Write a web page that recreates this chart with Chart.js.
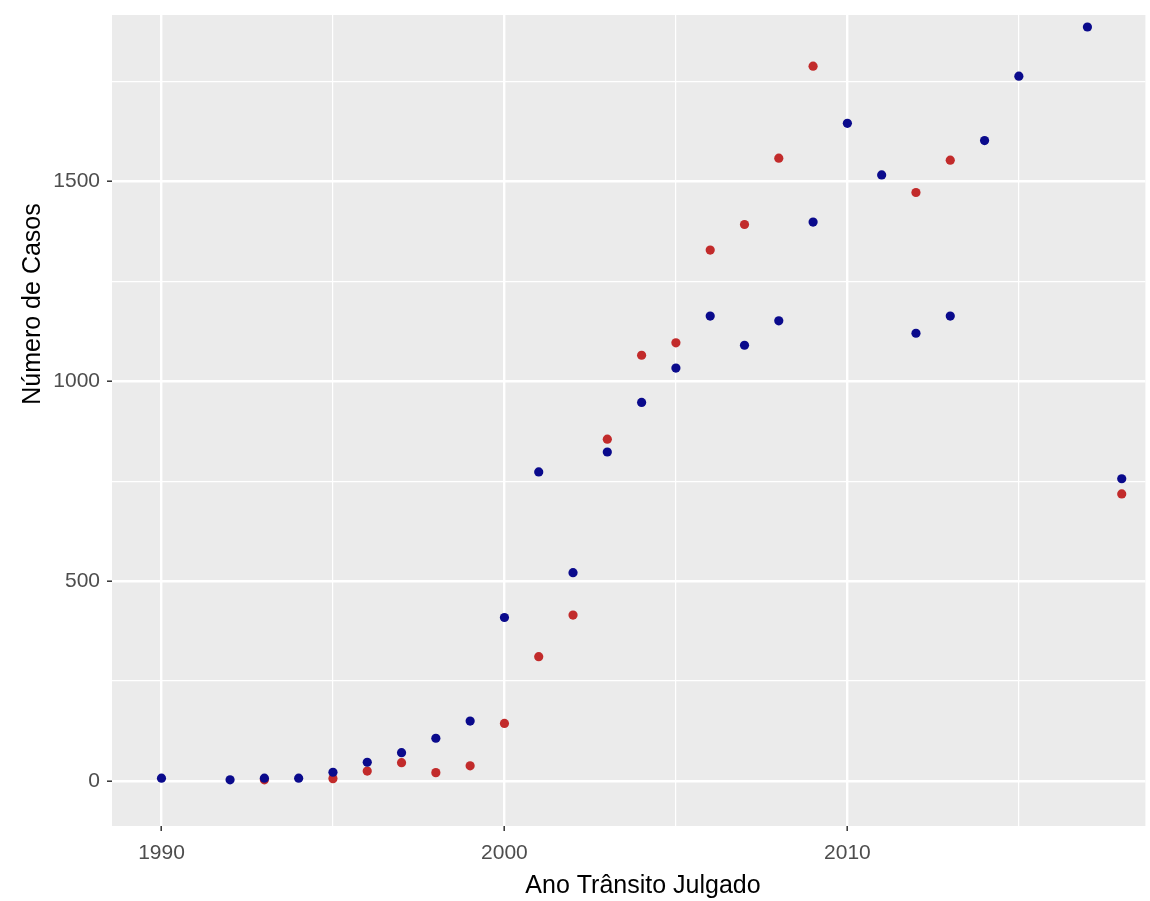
<!DOCTYPE html>
<html>
<head>
<meta charset="utf-8">
<title>Número de Casos por Ano Trânsito Julgado</title>
<script src="https://cdn.jsdelivr.net/npm/chart.js@4/dist/chart.umd.min.js"></script>
<style>
  html, body { margin: 0; padding: 0; background: #fff; }
  #wrap { width: 1150px; height: 901px; overflow: hidden; }
</style>
</head>
<body>
<div id="wrap"><canvas id="chart" width="1150" height="901"></canvas></div>
<script>
// years that have at least one point
const years = [1990, 1992, 1993, 1994, 1995, 1996, 1997, 1998, 1999, 2000,
  2001, 2002, 2003, 2004, 2005, 2006, 2007, 2008, 2009, 2010,
  2011, 2012, 2013, 2014, 2015, 2017, 2018];

// blue series (drawn on top)
const blueCases = [7, 3, 7, 7, 22, 47, 71, 107, 150, 409,
  773, 521, 823, 947, 1033, 1163, 1090, 1151, 1398, 1645,
  1516, 1120, 1163, 1602, 1763, 1886, 756];

// red series, null where no point is visible
const redCases = [null, null, 3, null, 6, 25, 46, 21, 38, 144,
  311, 415, 855, 1065, 1096, 1328, 1392, 1558, 1788, null,
  null, 1472, 1553, null, null, null, 718];

const xTickLabels = [1990, 2000, 2010];
const xGrid = [1990, 1995, 2000, 2005, 2010, 2015];
const yTickLabels = [0, 500, 1000, 1500];
const yGrid = [0, 250, 500, 750, 1000, 1250, 1500, 1750];

const xTitle = "Ano Trânsito Julgado";
const yTitle = "Número de Casos";

const FONT = "'Liberation Sans', Arial, sans-serif";

function toPoints(values) {
  return years
    .map((year, i) => ({ x: year, y: values[i] }))
    .filter(p => p.y !== null);
}

// ggplot puts the axis titles on the uncropped panel, so place them by hand
const axisTitles = {
  id: "axisTitles",
  afterDraw(chart) {
    const ctx = chart.ctx;
    ctx.save();
    ctx.fillStyle = "#000";
    ctx.font = "25px " + FONT;
    ctx.textAlign = "center";
    ctx.textBaseline = "middle";
    ctx.fillText(xTitle, 643, 886);
    ctx.translate(33, 304);
    ctx.rotate(-Math.PI / 2);
    ctx.fillText(yTitle, 0, 0);
    ctx.restore();
  }
};

const panelBg = {
  id: "panelBg",
  beforeDraw(chart) {
    const { ctx, chartArea: a } = chart;
    ctx.save();
    ctx.fillStyle = "#EBEBEB";
    ctx.fillRect(a.left, a.top, a.right - a.left, a.bottom - a.top);
    ctx.restore();
  }
};

const gridStyle = majors => ({
  color: "#FFFFFF",
  lineWidth: c => majors.includes(c.tick.value) ? 2.4 : 1.2,
  tickColor: c => majors.includes(c.tick.value) ? "#333333" : "rgba(0,0,0,0)",
  tickWidth: 1.5,
  tickLength: 5,
  drawTicks: true
});

new Chart(document.getElementById("chart"), {
  type: "scatter",
  data: {
    datasets: [
      {
        label: "azul",
        data: toPoints(blueCases),
        backgroundColor: "#0A0A8C",
        borderWidth: 0,
        pointRadius: 4.6,
        pointHoverRadius: 4.6
      },
      {
        label: "vermelho",
        data: toPoints(redCases),
        backgroundColor: "#C22B2B",
        borderWidth: 0,
        pointRadius: 4.6,
        pointHoverRadius: 4.6
      }
    ]
  },
  options: {
    responsive: false,
    animation: false,
    events: [],
    layout: { padding: { top: 15, left: 0, right: 0, bottom: 0 } },
    plugins: {
      legend: { display: false },
      tooltip: { enabled: false }
    },
    scales: {
      x: {
        type: "linear",
        min: 1988.557,
        max: 2018.69,
        border: { display: false },
        grid: gridStyle(xTickLabels),
        afterBuildTicks: scale => {
          scale.ticks = xGrid.map(v => ({ value: v }));
        },
        afterFit: scale => {
          scale.height = 75;
          scale.paddingLeft = 0;
          scale.paddingRight = 0;
        },
        ticks: {
          autoSkip: false,
          maxRotation: 0,
          padding: 10,
          color: "#4D4D4D",
          font: { family: FONT, size: 21 },
          callback: v => xTickLabels.includes(v) ? String(v) : ""
        }
      },
      y: {
        type: "linear",
        min: -112.5,
        max: 1916,
        border: { display: false },
        grid: gridStyle(yTickLabels),
        afterBuildTicks: scale => {
          scale.ticks = yGrid.map(v => ({ value: v }));
        },
        afterFit: scale => {
          scale.width = 112;
          scale.paddingTop = 0;
          scale.paddingBottom = 0;
        },
        ticks: {
          autoSkip: false,
          padding: 7,
          color: "#4D4D4D",
          font: { family: FONT, size: 21 },
          callback: v => yTickLabels.includes(v) ? String(v) : ""
        }
      }
    }
  },
  plugins: [panelBg, axisTitles]
});
</script>
</body>
</html>
